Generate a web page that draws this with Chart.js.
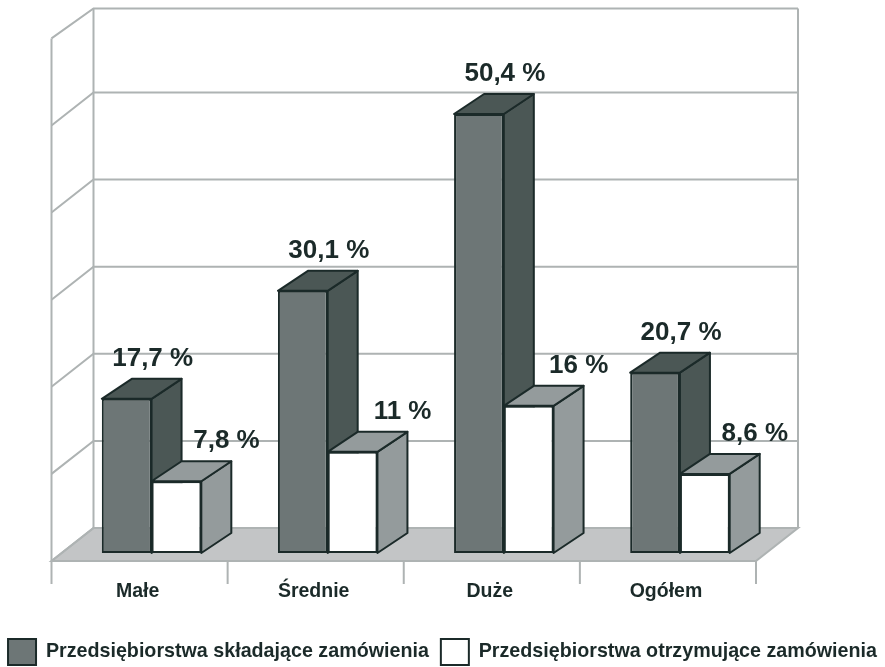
<!DOCTYPE html>
<html lang="pl">
<head>
<meta charset="utf-8">
<title>Przedsiębiorstwa</title>
<script src="https://cdn.jsdelivr.net/npm/chart.js@4"></script>
<style>
  html, body { margin: 0; background: #fff; }
  canvas { display: block; }
</style>
</head>
<body>
<canvas id="chart" width="885" height="667"></canvas>
<script>
const categories = ['Małe', 'Średnie', 'Duże', 'Ogółem'];
const skladajace = [17.7, 30.1, 50.4, 20.7];
const otrzymujace = [7.8, 11, 16, 8.6];
const seriesNames = ['Przedsiębiorstwa składające zamówienia', 'Przedsiębiorstwa otrzymujące zamówienia'];

const INK = '#1b2a29', WALL = '#aeb3b3', FLOOR = '#c3c5c6';
const depthFace = [{ side: '#4b5755', top: '#4b5755' }, { side: '#949b9c', top: '#949b9c' }];
const fmt = (v) => String(v).replace('.', ',') + ' %';

function poly(ctx, pts, fill) {
  ctx.beginPath();
  pts.forEach((p, i) => i ? ctx.lineTo(p[0], p[1]) : ctx.moveTo(p[0], p[1]));
  ctx.closePath();
  ctx.fillStyle = fill;
  ctx.fill();
  ctx.stroke();
}

// the box around the bars: floor, back wall, left wall, category ticks
function drawRoom(chart) {
  const { ctx, scales: { x, y } } = chart;
  const fl = x.left - 12, fr = x.right - 12, fy = y.bottom + 8, by = y.bottom - 25;
  ctx.save();
  ctx.lineWidth = 2;
  ctx.strokeStyle = WALL;
  ctx.fillStyle = FLOOR;
  ctx.beginPath();
  ctx.moveTo(fl, fy); ctx.lineTo(fl + 42, by); ctx.lineTo(fr + 42, by); ctx.lineTo(fr, fy);
  ctx.closePath();
  ctx.fill();
  ctx.stroke();
  y.ticks.forEach((t, i) => {
    const py = y.getPixelForValue(t.value) - 25;
    const last = i === y.ticks.length - 1;
    ctx.beginPath();
    ctx.moveTo(fl, py + (last ? 30 : 33));
    ctx.lineTo(fl + 42, py);
    ctx.lineTo(fr + 42, py);
    ctx.stroke();
    if (last) {
      ctx.beginPath();
      ctx.moveTo(fl, fy); ctx.lineTo(fl, py + 30);
      ctx.moveTo(fl + 42, by); ctx.lineTo(fl + 42, py);
      ctx.moveTo(fr + 42, by); ctx.lineTo(fr + 42, py);
      ctx.stroke();
    }
  });
  const step = (x.right - x.left) / categories.length;
  for (let i = 0; i <= categories.length; i++) {
    ctx.beginPath();
    ctx.moveTo(fl + i * step, fy);
    ctx.lineTo(fl + i * step, fy + 23);
    ctx.stroke();
  }
  ctx.restore();
}

const bars3d = {
  id: 'bars3d',
  beforeDatasetsDraw(chart) {
    drawRoom(chart);
    const { ctx } = chart;
    ctx.save();
    ctx.lineWidth = 2;
    ctx.strokeStyle = INK;
    ctx.lineJoin = 'round';
    chart.data.datasets.forEach((ds, di) => {
      chart.getDatasetMeta(di).data.forEach((b) => {
        const l = b.x - b.width / 2, r = b.x + b.width / 2;
        poly(ctx, [[r, b.y], [r + 30, b.y - 20], [r + 30, b.base - 20], [r, b.base]], depthFace[di].side);
        poly(ctx, [[l, b.y], [l + 30, b.y - 20], [r + 30, b.y - 20], [r, b.y]], depthFace[di].top);
      });
    });
    ctx.restore();
  },
  afterDatasetsDraw(chart) {
    const { ctx } = chart;
    ctx.save();
    ctx.font = 'bold 26px "Liberation Sans"';
    ctx.fillStyle = INK;
    ctx.textAlign = 'center';
    ctx.textBaseline = 'middle';
    chart.data.datasets.forEach((ds, di) => {
      chart.getDatasetMeta(di).data.forEach((b, i) => {
        ctx.fillText(fmt(ds.data[i]), b.x + 2 + 24 * (di + 1), b.y - 40);
      });
    });
    ctx.restore();
  },
};

new Chart(document.getElementById('chart'), {
  type: 'bar',
  data: {
    labels: categories,
    datasets: [
      { label: seriesNames[0], data: skladajace, yAxisID: 'y', backgroundColor: '#6d7676', borderColor: INK, borderWidth: 2, borderSkipped: false, clip: false },
      { label: seriesNames[1], data: otrzymujace, yAxisID: 'y2', backgroundColor: '#ffffff', borderColor: INK, borderWidth: 2, borderSkipped: false, clip: false },
    ],
  },
  options: {
    responsive: false,
    animation: false,
    layout: { padding: { left: -6, right: -6, top: 33.4, bottom: -8 } },
    categoryPercentage: 0.565,
    barPercentage: 1,
    plugins: {
      tooltip: { enabled: false },
      legend: {
        position: 'bottom',
        labels: {
          boxWidth: 28, boxHeight: 26, padding: 12, color: INK,
          font: { family: '"Liberation Sans"', size: 19.7, weight: 'bold' },
        },
      },
    },
    scales: {
      x: {
        grid: { display: false },
        border: { display: false },
        afterFit(s) { s.height = 74; },
        ticks: { color: INK, padding: 19, labelOffset: -14, font: { family: '"Liberation Sans"', size: 19.5, weight: 'bold' } },
      },
      y: {
        position: 'left', min: 0, max: 59.65,
        afterFit(s) { s.width = 69.5; },
        grid: { display: false }, border: { display: false },
        ticks: { stepSize: 10, display: false },
      },
      y2: {
        position: 'right', min: 0, max: 56.5,
        afterFit(s) { s.width = 123; },
        grid: { display: false }, border: { display: false },
        ticks: { display: false },
      },
    },
  },
  plugins: [bars3d],
});
</script>
</body>
</html>
